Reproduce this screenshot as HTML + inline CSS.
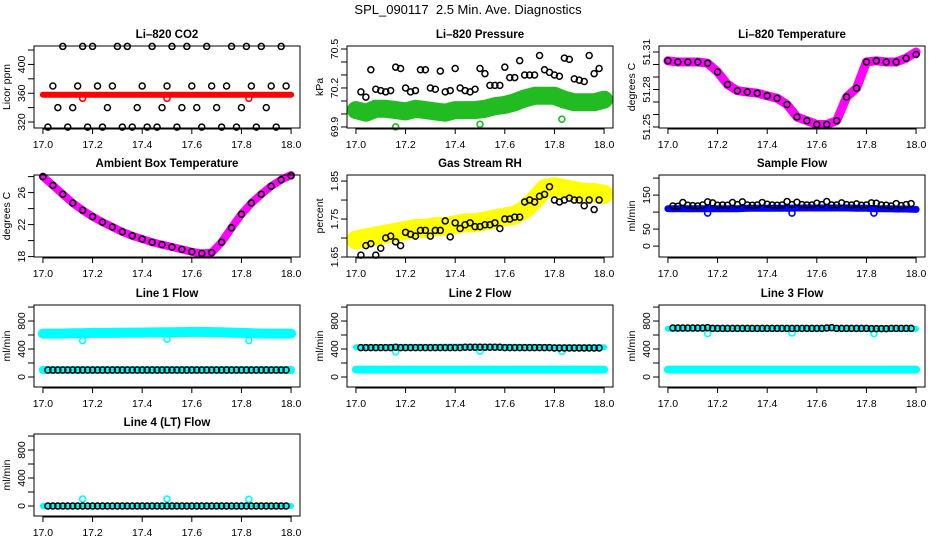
<!DOCTYPE html>
<html><head><meta charset="utf-8"><style>
body{margin:0;background:#fff;}
svg{display:block;font-family:"Liberation Sans",sans-serif;}
</style></head><body>
<svg id="c" width="936" height="540" viewBox="0 0 936 540">
<text x="468" y="14" text-anchor="middle" font-size="13">SPL_090117&#160; 2.5 Min. Ave. Diagnostics</text>
</svg>
<script>
// ---- data ----
const xTicks = [17.0, 17.2, 17.4, 17.6, 17.8, 18.0];
const xTickLabels = ["17.0","17.2","17.4","17.6","17.8","18.0"];
const bandTimes = [17.0,17.04,17.08,17.12,17.16,17.2,17.24,17.28,17.32,17.36,17.4,17.44,17.48,17.52,17.56,17.6,17.64,17.68,17.72,17.76,17.8,17.84,17.88,17.92,17.96,18.0];
const avgTimes = [17.02,17.04,17.06,17.08,17.1,17.12,17.14,17.16,17.18,17.2,17.22,17.24,17.26,17.28,17.3,17.32,17.34,17.36,17.38,17.4,17.42,17.44,17.46,17.48,17.5,17.52,17.54,17.56,17.58,17.6,17.62,17.64,17.66,17.68,17.7,17.72,17.74,17.76,17.78,17.8,17.82,17.84,17.86,17.88,17.9,17.92,17.94,17.96,17.98];
const outlierTimes = [17.16, 17.5, 17.83];

const co2Band = [358,358,358,358,358,358,358,358,358,358,358,358,358,358,358,358,358,358,358,358,358,358,358,358,358,358];
const co2Out = [353,353,353];
const co2Avg = [313,370,340,425,313,340,370,425,313,425,370,313,340,370,425,313,425,313,340,370,313,425,313,340,370,425,313,340,425,370,340,313,425,370,340,313,370,425,313,340,425,370,313,425,340,370,313,425,370];

const presBand = [70.03,70.01,70.04,70.04,70.03,70.02,70.04,70.03,70.02,70.01,70.03,70.03,70.03,70.04,70.06,70.07,70.09,70.12,70.14,70.14,70.14,70.11,70.09,70.09,70.09,70.11];
const presOut = [69.9,69.92,69.96];
const presAvg = [70.17,70.13,70.34,70.19,70.18,70.17,70.18,70.36,70.35,70.2,70.17,70.18,70.34,70.34,70.2,70.19,70.33,70.17,70.18,70.35,70.2,70.18,70.17,70.19,70.35,70.31,70.22,70.22,70.22,70.36,70.28,70.28,70.41,70.3,70.3,70.3,70.45,70.34,70.32,70.3,70.29,70.43,70.42,70.27,70.26,70.25,70.45,70.31,70.35];

const tempBand = [51.303,51.302,51.302,51.302,51.301,51.294,51.284,51.279,51.278,51.277,51.275,51.273,51.268,51.258,51.255,51.252,51.252,51.255,51.274,51.281,51.302,51.303,51.302,51.302,51.305,51.31];
const tempAvg = [51.303,51.302,51.302,51.302,51.301,51.294,51.284,51.279,51.278,51.277,51.275,51.273,51.268,51.258,51.255,51.252,51.252,51.255,51.274,51.281,51.302,51.303,51.302,51.302,51.305,51.308];

const ambBand = [28.0,26.9,25.8,24.7,23.8,23.0,22.3,21.7,21.1,20.6,20.2,19.8,19.5,19.2,18.9,18.6,18.4,18.5,19.8,21.6,23.3,24.7,25.8,26.8,27.6,28.2];
const ambAvg = [28.0,26.9,25.8,24.7,23.8,23.0,22.3,21.7,21.1,20.6,20.2,19.8,19.5,19.2,18.9,18.6,18.4,18.5,19.8,21.6,23.3,24.7,25.8,26.8,27.6,28.1];

const rhBand = [1.695,1.70,1.705,1.71,1.715,1.72,1.725,1.725,1.73,1.73,1.735,1.74,1.74,1.745,1.75,1.755,1.76,1.775,1.80,1.83,1.835,1.83,1.825,1.82,1.82,1.815];
const rhAvg = [1.655,1.68,1.685,1.655,1.673,1.70,1.705,1.69,1.68,1.715,1.71,1.705,1.72,1.72,1.705,1.72,1.72,1.745,1.703,1.74,1.725,1.735,1.74,1.73,1.73,1.735,1.735,1.74,1.725,1.75,1.75,1.755,1.755,1.795,1.80,1.795,1.81,1.815,1.835,1.80,1.795,1.80,1.805,1.80,1.80,1.785,1.80,1.775,1.80];

const sfBand = [110,110,110,110,110,110,110,110,111,111,111,111,111,112,112,112,112,112,112,111,111,110,110,109,109,108];
const sfOut = [97,97,97];
const sfAvg = [118,117,128,120,119,118,121,130,127,120,121,120,128,122,130,121,120,121,128,123,121,120,121,131,122,129,122,121,121,126,122,131,121,121,127,122,121,124,120,121,127,126,121,120,118,125,119,122,125];

const l1Band = [620,620,620,625,625,630,630,630,632,635,635,638,640,640,642,645,645,642,640,635,630,625,622,620,620,620];
const l1Out = [520,540,520];
const l1Low = [100,100,100,100,100,100,100,100,100,100,100,100,100,100,100,100,100,100,100,100,100,100,100,100,100,100];
const l1Avg = [100,100,100,100,100,100,100,100,100,100,100,100,100,100,100,100,100,100,100,100,100,100,100,100,100,100,100,100,100,100,100,100,100,100,100,100,100,100,100,100,100,100,100,100,100,100,100,100,100];

const l2Band = [425,425,425,428,430,430,430,430,430,432,432,432,432,432,432,430,430,430,430,428,425,425,425,425,425,425];
const l2Out = [360,370,365];
const l2Low = [105,105,105,105,105,105,105,105,105,105,105,105,105,105,105,105,105,105,105,105,105,105,105,105,105,105];
const l2Avg = [420,420,420,420,420,420,420,425,420,420,420,420,420,420,420,420,420,420,420,420,420,425,425,425,425,425,425,425,425,420,420,420,420,420,420,420,420,420,420,415,415,415,415,415,415,415,415,415,415];

const l3Band = [690,690,690,690,690,690,690,690,690,690,690,690,690,692,695,695,695,693,692,690,690,688,688,688,688,688];
const l3Out = [620,630,620];
const l3Low = [105,105,105,105,105,105,105,105,105,105,105,105,105,105,105,105,105,105,105,105,105,105,105,105,105,105];
const l3Avg = [700,700,700,700,700,700,700,705,695,695,695,695,695,695,695,695,695,695,695,695,695,695,695,695,695,695,695,695,695,695,695,700,705,695,695,695,695,695,695,695,692,692,692,692,695,695,695,695,695];

const l4Band = [0,0,0,0,0,0,0,0,0,0,0,0,0,0,0,0,0,0,0,0,0,0,0,0,0,0];
const l4Out = [100,100,95];
const l4Avg = [0,0,0,0,0,0,0,0,0,0,0,0,0,0,0,0,0,0,0,0,0,0,0,0,0,0,0,0,0,0,0,0,0,0,0,0,0,0,0,0,0,0,0,0,0,0,0,0,0];

// ---- layout ----
const NS = "http://www.w3.org/2000/svg";
const svg = document.getElementById('c');
const colLeft = [34, 347, 659];
const rowTop = [46, 175, 305, 434];
const boxW = 266, boxH = 82;
const XLO = 16.964, XHI = 18.036;

function mk(tag, attrs, parent) {
  const e = document.createElementNS(NS, tag);
  for (const k in attrs) e.setAttribute(k, attrs[k]);
  (parent || svg).appendChild(e);
  return e;
}

const panels = [
  {name:'li820-co2', title:'Li\u2013820 CO2', ylab:'Licor ppm', c:0, r:0, ylo:311.7, yhi:425.6,
   yt:[320,340,360,380,400,420], yl:{320:'320',360:'360',400:'400'},
   band:co2Band, bw:6, color:'#ff0000', outs:co2Out, avg:co2Avg},
  {name:'li820-pressure', title:'Li\u2013820 Pressure', ylab:'kPa', c:1, r:0, ylo:69.892, yhi:70.523,
   yt:[69.9,70.0,70.1,70.2,70.3,70.4,70.5], yl:{'69.9':'69.9','70.2':'70.2','70.5':'70.5'},
   band:presBand, bw:18, color:'#22bb22', outs:presOut, avg:presAvg},
  {name:'li820-temperature', title:'Li\u2013820 Temperature', ylab:'degrees C', c:2, r:0, ylo:51.2492, yhi:51.3148,
   yt:[51.25,51.26,51.27,51.28,51.29,51.30,51.31], yl:{'51.25':'51.25','51.28':'51.28','51.31':'51.31'},
   band:tempBand, bw:9, color:'#ff00ff', avg:tempAvg, avgT:bandTimes},
  {name:'ambient-box-temperature', title:'Ambient Box Temperature', ylab:'degrees C', c:0, r:1, ylo:17.95, yhi:28.2,
   yt:[18,20,22,24,26,28], yl:{18:'18',22:'22',26:'26'},
   band:ambBand, bw:8, color:'#ff00ff', avg:ambAvg, avgT:bandTimes},
  {name:'gas-stream-rh', title:'Gas Stream RH', ylab:'percent', c:1, r:1, ylo:1.65, yhi:1.866,
   yt:[1.65,1.70,1.75,1.80,1.85], yl:{'1.65':'1.65','1.75':'1.75','1.85':'1.85'},
   band:rhBand, bw:19, color:'#ffff00', avg:rhAvg},
  {name:'sample-flow', title:'Sample Flow', ylab:'ml/min', c:2, r:1, ylo:-32, yhi:209,
   yt:[0,50,100,150,200], yl:{0:'0',50:'50',150:'150'},
   band:sfBand, bw:7, color:'#0000ff', outs:sfOut, avg:sfAvg},
  {name:'line1-flow', title:'Line 1 Flow', ylab:'ml/min', c:0, r:2, ylo:-143, yhi:1029,
   yt:[0,200,400,600,800,1000], yl:{0:'0',400:'400',800:'800'},
   band:l1Band, bw:10, color:'#00ffff', outs:l1Out, low:l1Low, avg:l1Avg},
  {name:'line2-flow', title:'Line 2 Flow', ylab:'ml/min', c:1, r:2, ylo:-143, yhi:1029,
   yt:[0,200,400,600,800,1000], yl:{0:'0',400:'400',800:'800'},
   band:l2Band, bw:6, color:'#00ffff', outs:l2Out, low:l2Low, avg:l2Avg},
  {name:'line3-flow', title:'Line 3 Flow', ylab:'ml/min', c:2, r:2, ylo:-143, yhi:1029,
   yt:[0,200,400,600,800,1000], yl:{0:'0',400:'400',800:'800'},
   band:l3Band, bw:6, color:'#00ffff', outs:l3Out, low:l3Low, avg:l3Avg},
  {name:'line4-lt-flow', title:'Line 4 (LT) Flow', ylab:'ml/min', c:0, r:3, ylo:-143, yhi:1029,
   yt:[0,200,400,600,800,1000], yl:{0:'0',400:'400',800:'800'},
   band:l4Band, bw:6, color:'#00ffff', outs:l4Out, avg:l4Avg}
];

panels.forEach(p => {
  const L = colLeft[p.c], T = rowTop[p.r];
  const g = mk('g', {});
  
  
  const sx = v => L + (v - XLO) / (XHI - XLO) * boxW;
  const sy = v => T + boxH - (v - p.ylo) / (p.yhi - p.ylo) * boxH;

  const t = mk('text', {x: L + boxW/2, y: T - 8, 'text-anchor':'middle', 'font-size':'11.5', 'font-weight':'bold'}, g);
  t.textContent = p.title;
  
  

  const yl = mk('text', {x: 0, y: 0, 'text-anchor':'middle', 'font-size':'10.5',
    transform: `translate(${L-24},${T+boxH/2}) rotate(-90)`}, g);
  yl.textContent = p.ylab;
  
  

  const drawBand = (arr, w, name) => {
    const pts = bandTimes.map((tt, i) => sx(tt).toFixed(1) + ',' + sy(arr[i]).toFixed(1)).join(' ');
    const pl = mk('polyline', {points: pts, fill:'none', stroke:p.color, 'stroke-width':w, 'stroke-linejoin':'round', 'stroke-linecap':'round'}, g);
    
    
  };
  drawBand(p.band, p.bw, p.name + '-raw-series');
  if (p.low) drawBand(p.low, 8, p.name + '-raw-series-low');
  if (p.outs) p.outs.forEach((v, i) => {
    const c = mk('circle', {cx: sx(outlierTimes[i]), cy: sy(v), r: 3, fill:'none', stroke:p.color, 'stroke-width':1.6}, g);
    
    
  });
  const at = p.avgT || avgTimes;
  p.avg.forEach((v, i) => {
    const c = mk('circle', {cx: sx(at[i]), cy: sy(v), r: 3, fill:'none', stroke:'#000', 'stroke-width':1.5}, g);
    
    
  });

  const box = mk('rect', {x:L, y:T, width:boxW, height:boxH, fill:'none', stroke:'#000', 'stroke-width':1}, g);
  
  

  const xa = mk('g', {}, g);
  
  
  mk('line', {x1:sx(xTicks[0]), x2:sx(xTicks[xTicks.length-1]), y1:T+boxH+1, y2:T+boxH+1, stroke:'#000'}, xa);
  xTicks.forEach((v, i) => {
    mk('line', {x1:sx(v), x2:sx(v), y1:T+boxH, y2:T+boxH+6, stroke:'#000'}, xa);
    const tl = mk('text', {x:sx(v), y:T+boxH+20, 'text-anchor':'middle', 'font-size':'10.5'}, xa);
    tl.textContent = xTickLabels[i];
  });
  const ya = mk('g', {}, g);
  
  
  p.yt.forEach(v => {
    const y = sy(v);
    mk('line', {x1:L-6, x2:L, y1:y, y2:y, stroke:'#000'}, ya);
    const lab = p.yl[String(v)];
    if (lab) {
      const tl = mk('text', {x:0, y:0, 'text-anchor':'middle', 'font-size':'10.5',
        transform:`translate(${L-9},${y}) rotate(-90)`}, ya);
      tl.textContent = lab;
    }
  });
});
</script>
</body></html>
